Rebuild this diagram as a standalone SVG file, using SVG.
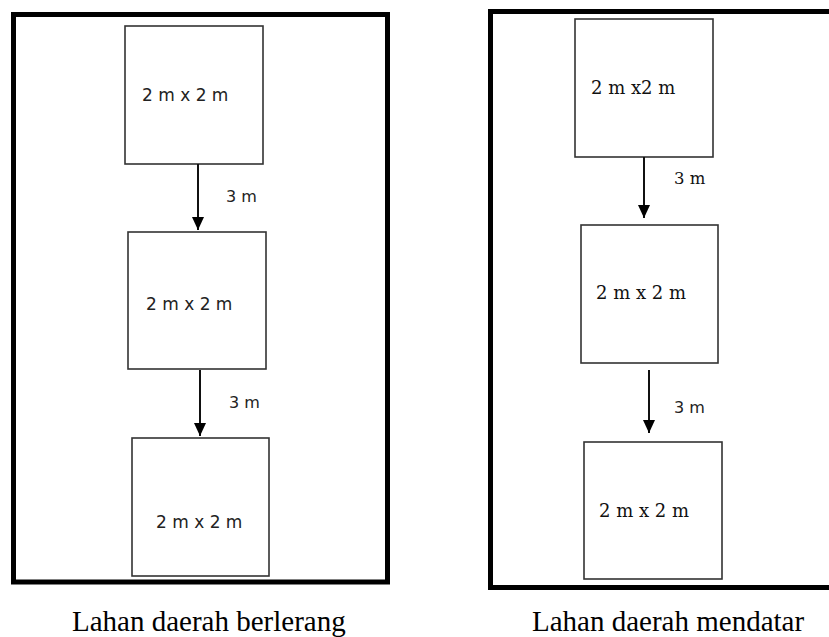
<svg xmlns="http://www.w3.org/2000/svg" width="829" height="637" viewBox="0 0 829 637">
<style>
.frame{fill:none;stroke:#000;stroke-width:5}
.box{fill:#fff;stroke:#333;stroke-width:1.6}
.sans{font-family:"DejaVu Sans",Verdana,sans-serif;fill:#222}
.serif{font-family:"DejaVu Serif",serif;fill:#111}
.cap{font-family:"Liberation Serif","Times New Roman",serif;font-size:29px;fill:#000}
.arrow{stroke:#111;stroke-width:2;fill:none}
</style>
<defs>
<marker id="ah" viewBox="0 0 13 12" refX="13" refY="6" markerWidth="13" markerHeight="12" markerUnits="userSpaceOnUse" orient="auto">
<path d="M0,0 L13,6 L0,12 Z" fill="#000"/>
</marker>
</defs>
<rect width="829" height="637" fill="#fff"/>

<g id="left-panel">
<rect class="frame" x="13.5" y="14.5" width="374" height="567.5"/>
</g>
<g id="right-panel">
<rect class="frame" x="490.5" y="11.5" width="360" height="576"/>
</g>

<g id="left-box1">
<rect class="box" x="125" y="26" width="138" height="138"/>
<text class="sans" x="142" y="101" font-size="17">2 m x 2 m</text>
</g>
<g id="left-box2">
<rect class="box" x="128" y="232" width="138" height="137"/>
<text class="sans" x="146" y="310" font-size="17">2 m x 2 m</text>
</g>
<g id="left-box3">
<rect class="box" x="132" y="438" width="137" height="138"/>
<text class="sans" x="156" y="528" font-size="17">2 m x 2 m</text>
</g>

<g id="right-box1">
<rect class="box" x="575" y="19" width="138" height="138"/>
<text class="serif" x="591" y="94" font-size="18">2 m x2 m</text>
</g>
<g id="right-box2">
<rect class="box" x="581" y="225" width="137" height="138"/>
<text class="serif" x="596" y="299" font-size="18">2 m x 2 m</text>
</g>
<g id="right-box3">
<rect class="box" x="584" y="442" width="138" height="137"/>
<text class="serif" x="599" y="517" font-size="18">2 m x 2 m</text>
</g>

<g id="connectors">
<line class="arrow" x1="198" y1="164" x2="198" y2="230" marker-end="url(#ah)"/>
<text class="sans" x="226" y="202" font-size="16">3 m</text>
<line class="arrow" x1="200" y1="370" x2="200" y2="436" marker-end="url(#ah)"/>
<text class="sans" x="229" y="408" font-size="16">3 m</text>
<line class="arrow" x1="644" y1="157" x2="644" y2="218" marker-end="url(#ah)"/>
<text class="serif" x="674" y="184" font-size="16.5">3 m</text>
<line class="arrow" x1="649" y1="370" x2="649" y2="433" marker-end="url(#ah)"/>
<text class="sans" x="674" y="413" font-size="16">3 m</text>
</g>

<g id="captions">
<text class="cap" x="72" y="631">Lahan daerah berlerang</text>
<text class="cap" x="532" y="631">Lahan daerah mendatar</text>
</g>
</svg>
